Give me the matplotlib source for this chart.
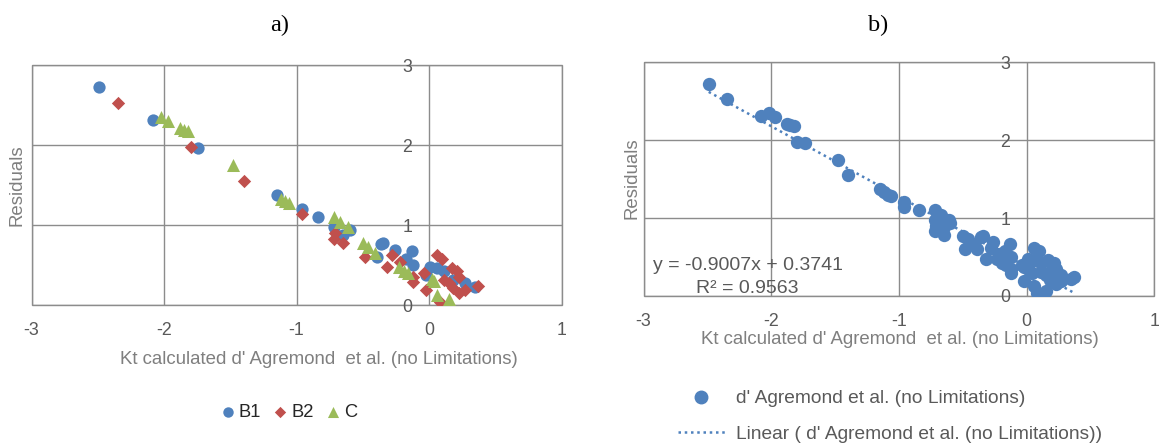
import numpy as np
import matplotlib
matplotlib.use("Agg")
import matplotlib.pyplot as plt
from matplotlib.lines import Line2D
from matplotlib.patches import Rectangle

plt.rcParams['font.family'] = ['Liberation Sans', 'DejaVu Sans']

# data
b1_x = [-2.49, -2.08, -1.74, -1.15, -0.96, -0.84, -0.72, -0.60, -0.65, -0.345, -0.26, -0.13,
        -0.39, -0.17, -0.12, 0.01, 0.06, 0.11, 0.18, 0.27, 0.35, -0.02, -0.36]
b1_y = [2.72, 2.31, 1.96, 1.375, 1.20, 1.10, 0.98, 0.94, 0.88, 0.77, 0.69, 0.67,
        0.60, 0.58, 0.50, 0.48, 0.46, 0.42, 0.31, 0.27, 0.22, 0.37, 0.76]
b2_x = [-2.35, -1.80, -1.40, -0.96, -0.71, -0.72, -0.65, -0.48, -0.32, -0.28, -0.22, -0.12,
        -0.12, 0.06, 0.10, -0.02, 0.08, 0.17, 0.21, 0.23, 0.27, 0.37, 0.11, -0.04, 0.15, 0.23, 0.18]
b2_y = [2.53, 1.97, 1.55, 1.14, 0.90, 0.83, 0.78, 0.60, 0.48, 0.62, 0.54, 0.35,
        0.29, 0.62, 0.58, 0.19, 0.04, 0.46, 0.42, 0.15, 0.19, 0.24, 0.31, 0.40, 0.27, 0.35, 0.21]
c_x = [-2.02, -1.97, -1.88, -1.85, -1.82, -1.48, -1.12, -1.09, -1.06, -0.72, -0.67, -0.61,
       -0.50, -0.46, -0.41, -0.23, -0.19, -0.16, 0.02, 0.04, 0.06, 0.15]
c_y = [2.35, 2.30, 2.21, 2.19, 2.18, 1.75, 1.33, 1.30, 1.28, 1.10, 1.04, 0.98,
       0.77, 0.73, 0.65, 0.48, 0.42, 0.40, 0.33, 0.30, 0.125, 0.07]

series_names = ['B1', 'B2', 'C']
trend_slope = -0.9007
trend_intercept = 0.3741
r_squared = 0.9563

x_ticks = [-3, -2, -1, 0, 1]
y_ticks = [0, 1, 2, 3]

blue = '#4F81BD'
red = '#C0504D'
green = '#9BBB59'
grid_col = '#8c8c8c'
tick_col = '#595959'
label_col = '#7f7f7f'
xlabel_txt = "Kt calculated d' Agremond  et al. (no Limitations)"

W, H = 1161, 444
fig = plt.figure(figsize=(W / 100, H / 100), dpi=100)


def px(x, y):
    return x / W, 1 - y / H


def style_axes(ax):
    ax.set_xlim(-3, 1)
    ax.set_ylim(0, 3)
    ax.set_xticks(x_ticks)
    ax.set_yticks(y_ticks)
    ax.set_xticklabels([str(v) for v in x_ticks])
    ax.set_yticklabels([str(v) for v in y_ticks])
    ax.grid(True, color=grid_col, linewidth=1.0)
    ax.set_axisbelow(True)
    for s in ['top', 'right', 'bottom']:
        ax.spines[s].set_visible(False)
    # vertical axis sits at x = 0, like in Excel
    ax.spines['left'].set_position(('data', 0))
    ax.spines['left'].set_visible(False)
    ax.tick_params(axis='both', length=0, labelsize=12.8, labelcolor=tick_col)
    ax.tick_params(axis='x', pad=12.5)
    ax.tick_params(axis='y', pad=12)
    ax.add_patch(Rectangle((0, 0), 1, 1, transform=ax.transAxes, fill=False,
                           edgecolor=grid_col, linewidth=1.0, clip_on=False, zorder=0.5))


# ---- panel a
ax1 = fig.add_axes([31.5 / W, 1 - 305 / H, 530 / W, 240 / H])
style_axes(ax1)
ax1.scatter(b1_x, b1_y, marker='o', s=78, color=blue, linewidths=0, zorder=3, label=series_names[0])
ax1.scatter(b2_x, b2_y, marker='D', s=46, color=red, linewidths=0, zorder=3, label=series_names[1])
ax1.scatter(c_x, c_y, marker='^', s=88, color=green, linewidths=0, zorder=3, label=series_names[2])

fig.text(*px(280, 25), 'a)', family='Liberation Serif', fontsize=17.5, ha='center', va='center')
fig.text(*px(319, 359), xlabel_txt, fontsize=13.4, color=label_col, ha='center', va='center')
fig.text(*px(17, 185), 'Residuals', fontsize=13.4, color=label_col, rotation=90,
         ha='center', va='center')
h, l = ax1.get_legend_handles_labels()
fig.legend(h, l, loc='center', bbox_to_anchor=px(289, 412), ncol=3, frameon=False,
           fontsize=13.2, handlelength=0.7, handletextpad=0.25, columnspacing=0.7,
           markerscale=0.85, labelcolor='#262626', borderpad=0)

# ---- panel b
all_x = np.array(b1_x + b2_x + c_x)
all_y = np.array(b1_y + b2_y + c_y)
ax2 = fig.add_axes([643.6 / W, 1 - 296 / H, 510.8 / W, 234 / H])
style_axes(ax2)
ax2.scatter(all_x, all_y, marker='o', s=92, color=blue, linewidths=0, zorder=3)
tx = np.array([all_x.min(), all_x.max()])
ax2.plot(tx, trend_slope * tx + trend_intercept, linestyle=(0, (1, 1.5)),
         color=blue, linewidth=1.8, zorder=2)

fig.text(*px(878, 25), 'b)', family='Liberation Serif', fontsize=17.5, ha='center', va='center')
fig.text(*px(900, 340), xlabel_txt, fontsize=13.4, color=label_col, ha='center', va='center')
fig.text(*px(632, 178), 'Residuals', fontsize=13.4, color=label_col, rotation=90,
         ha='center', va='center')
fig.text(*px(653, 266), 'y = %.4fx + %.4f' % (trend_slope, trend_intercept), fontsize=14,
         color=tick_col, ha='left', va='center')
fig.text(*px(696, 288), 'R² = %.4f' % r_squared, fontsize=14, color=tick_col,
         ha='left', va='center')

h1 = Line2D([], [], marker='o', linestyle='none', color=blue, markersize=9)
h2 = Line2D([], [], linestyle=(0, (1, 1.5)), color=blue, linewidth=1.8)
fig.legend([h1, h2], ["d' Agremond et al. (no Limitations)",
                      "Linear ( d' Agremond et al. (no Limitations))"],
           loc='upper left', bbox_to_anchor=px(678, 390), frameon=False, fontsize=13.8,
           labelcolor=tick_col, handlelength=2.45, handletextpad=0.55, labelspacing=0.95,
           borderaxespad=0, borderpad=0)

fig.savefig('out.png', dpi=100)
